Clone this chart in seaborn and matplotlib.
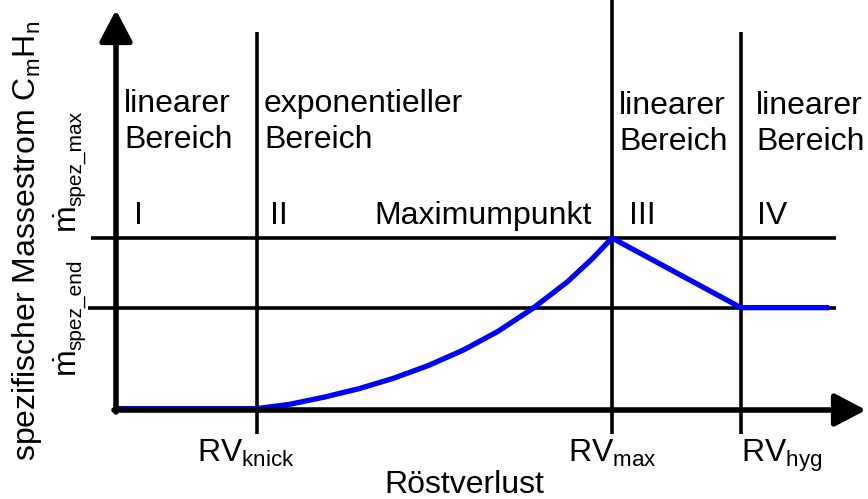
import matplotlib
matplotlib.use("Agg")
import matplotlib.pyplot as plt
import seaborn as sns

# schematic values, normalised: RV_max = 1, m_spez_max = 1
rv_knick = 0.284
rv_max = 1.0
rv_hyg = 1.26
rv_end = 1.4375
m_max = 1.0
m_end = 0.595

# blue curve (Röstverlust, spezifischer Massestrom)
curve_x = [0.0, 0.284, 0.35, 0.42, 0.49, 0.56, 0.63, 0.70, 0.77, 0.84,
           0.91, 0.96, 1.0, 1.26, 1.4375]
curve_y = [0.008, 0.008, 0.033, 0.075, 0.124, 0.185, 0.259, 0.348, 0.457, 0.59,
           0.745, 0.879, 1.0, 0.595, 0.595]

region_names = ["linearer\nBereich", "exponentieller\nBereich", "linearer\nBereich", "linearer\nBereich"]
region_nums = ["I", "II", "III", "IV"]
x_labels = [r"RV$_{\mathrm{knick}}$", r"RV$_{\mathrm{max}}$", r"RV$_{\mathrm{hyg}}$"]
m_subs = ["spez_max", "spez_end"]

sns.set_theme(style="white")
plt.rcParams['font.family'] = ['Liberation Sans', 'DejaVu Sans']
plt.rcParams['text.color'] = 'black'
plt.rcParams['mathtext.fontset'] = 'custom'
plt.rcParams['mathtext.rm'] = 'Liberation Sans'
plt.rcParams['mathtext.it'] = 'Liberation Sans:italic'
plt.rcParams['mathtext.bf'] = 'Liberation Sans:bold'

fig = plt.figure(figsize=(8.68, 4.99), dpi=100)
ax = fig.add_axes([0, 0, 1, 1])
ax.set_axis_off()

# px -> data helpers (origin at px 116/410, RV_max at px 612, m_max at px 238)
def X(px):
    return (px - 116) / 496

def Y(py):
    return (410 - py) / 172

ax.set_xlim(X(0), X(868))
ax.set_ylim(Y(499), Y(0))

fs = 23
thin = 2.6

# vertical guide lines
ax.plot([rv_knick, rv_knick], [Y(32), Y(434)], color="black", lw=thin, solid_capstyle="butt")
ax.plot([rv_max, rv_max], [Y(-2), Y(434)], color="black", lw=thin, solid_capstyle="butt")
ax.plot([rv_hyg, rv_hyg], [Y(32), Y(434)], color="black", lw=thin, solid_capstyle="butt")

# horizontal guide lines
ax.plot([X(91), X(836)], [m_max, m_max], color="black", lw=thin, solid_capstyle="butt")
ax.plot([X(88), X(836)], [m_end, m_end], color="black", lw=thin, solid_capstyle="butt")

# axes arrows
arrow = dict(arrowstyle="-|>,head_length=0.95,head_width=0.5", lw=4, color="black",
             shrinkA=0, shrinkB=0, mutation_scale=20)
ax.annotate("", xy=(0, Y(10)), xytext=(0, Y(412)), arrowprops=arrow)
ax.annotate("", xy=(X(866), 0), xytext=(X(114), 0), arrowprops=arrow)

# curve
sns.lineplot(x=curve_x, y=curve_y, ax=ax, color="#0000ff", lw=3.8, sort=False,
             solid_capstyle="butt")

# region texts
name_x = [X(124), X(264), X(619), X(756)]
name_y = [Y(112), Y(112), Y(114), Y(114)]
for nx, ny, name in zip(name_x, name_y, region_names):
    first, second = name.split("\n")
    ax.text(nx, ny, first, fontsize=fs, ha="left", va="baseline")
    ax.text(nx, ny - 36 / 172, second, fontsize=fs, ha="left", va="baseline")

num_x = [X(134), X(270), X(629), X(757)]
for nx, num in zip(num_x, region_nums):
    ax.text(nx, Y(224), num, fontsize=fs, ha="left", va="baseline")
ax.text(X(374), Y(224), "Maximumpunkt", fontsize=fs, ha="left", va="baseline")

# x labels
lab_x = [X(197), X(568), X(741)]
for lx, lab in zip(lab_x, x_labels):
    ax.text(lx, Y(462), lab, fontsize=fs, ha="left", va="baseline")
ax.text(X(464), Y(493), "Röstverlust", fontsize=fs, ha="center", va="baseline")

# y labels
ax.text(X(35), Y(241), r"spezifischer Massestrom C$_{\mathrm{m}}$H$_{\mathrm{n}}$", fontsize=fs,
        rotation=90, ha="center", va="baseline", rotation_mode="anchor")
m_bottom = [233, 377]
for mb, sub in zip(m_bottom, m_subs):
    ax.text(X(77), Y(mb), r"$\dot{\mathrm{m}}$", fontsize=fs,
            rotation=90, ha="left", va="baseline", rotation_mode="anchor")
    ax.text(X(81), Y(mb - 27), sub, fontsize=15,
            rotation=90, ha="left", va="baseline", rotation_mode="anchor")

fig.savefig("out.png", dpi=100)
